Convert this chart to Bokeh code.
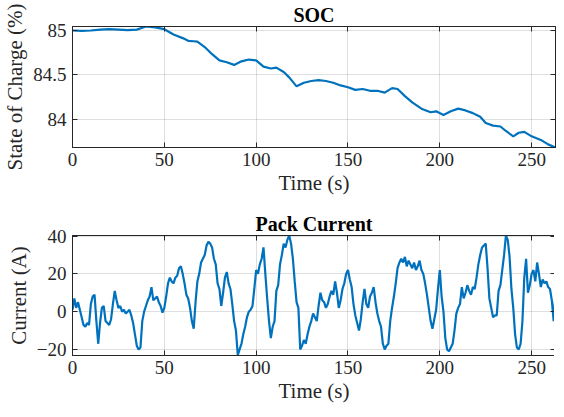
from bokeh.plotting import figure
from bokeh.layouts import column
from bokeh.models import Range1d, FixedTicker, LinearAxis
from bokeh.embed import file_html
from bokeh.resources import INLINE

# ---------------- data ----------------
soc_time = [0, 5, 10, 15, 20, 25, 30, 35, 40, 45, 50, 55, 60, 63, 66, 68, 72, 76, 80, 84,
            88, 92, 96, 100, 104, 108, 111, 115, 118, 122, 126, 130, 134, 138, 142, 146,
            150, 154, 158, 162, 166, 170, 174, 177, 181, 185, 190, 195, 198, 202, 206,
            210, 214, 218, 222, 225, 229, 233, 236, 240, 243, 246, 250, 255, 259, 263]
soc_values = [84.995, 84.99, 84.995, 85.005, 85.01, 85.005, 85.0, 85.005, 85.04, 85.03,
              85.01, 84.95, 84.91, 84.88, 84.875, 84.87, 84.81, 84.73, 84.66, 84.64,
              84.61, 84.65, 84.67, 84.66, 84.59, 84.57, 84.58, 84.53, 84.47, 84.37,
              84.41, 84.43, 84.44, 84.43, 84.41, 84.38, 84.36, 84.33, 84.34, 84.32,
              84.32, 84.30, 84.35, 84.34, 84.26, 84.19, 84.12, 84.08, 84.09, 84.05,
              84.09, 84.12, 84.10, 84.07, 84.03, 83.96, 83.93, 83.92, 83.87, 83.81,
              83.85, 83.86, 83.81, 83.77, 83.72, 83.685]

current_values = [
    1, 7, 2, 5, 1, -3, -7, -8, -6, -7,
    4, 8, 9, -5, -17, -6, 2, 3, -5, -6,
    -7, -4, 4, 11, 6, 2, 3, 0, 1, -1,
    0, 1, -2, -6, -12, -18, -20, -19, -5, 0,
    3, 6, 8, 13, 6, 7, 8, 5, 3, -0.5,
    2, 8, 15, 18, 16, 15, 18, 19, 23, 24,
    20, 15, 9, 7, 2, -5, -9, 5, 16, 20,
    26, 28, 30, 35, 37, 36, 34, 28, 25, 15,
    12, 3, 10, 18, 21, 15, 12, 4, -5, -10,
    -23, -20, -17, -12, -8, -3, 0, 1, 3, 12,
    22, 20, 25, 28, 34, 20, 7, -5, -14, -8,
    -5, 11, 14, 25, 30, 36, 34, 38, 40.3, 36,
    28, 16, 5, 2, -20, -18, -15, -17, -12, -8,
    -5, -1, -3, -5, 3, 10, 6, 5, 2, 4,
    8, 11, 9, 16, 10, 2, 6, 12, 15, 20,
    22, 17, 13, 4, -2, -6, -10, -4, 5, 12,
    4, 2, 8, 10, 13, 5, -1, -5, -8, -17,
    -20, -18, -17, -5, 2, 8, 15, 23, 26, 28,
    26, 29, 24, 27, 25, 23, 26, 22, 24, 27,
    22, 20, 15, 9, 2, -5, -9, -4, 1, 12,
    22, 8, 0, -14, -20, -21, -19, -17, -10, -1,
    2, 4, 13, 7, 10, 14, 11, 9, 13, 12,
    18, 25, 30, 34, 35, 36, 23, 7, 2, -3,
    -2, -2, 11, 14, 22, 30, 40.3, 38, 29, 12,
    2, -12, -19, -20, -17, -5, 18, 28, 10, 14,
    20, 22, 16, 26, 20, 13, 17, 15, 16, 13,
    12, 6, -5, 10]
current_time = list(range(len(current_values)))

x_ticks = [0, 50, 100, 150, 200, 250]
soc_ticks = [84, 84.5, 85]
current_ticks = [-20, 0, 20, 40]

# ---------------- style ----------------
FONT = "Liberation Serif"
AX = "#262626"
BLUE = "#0072BD"


def style(p, yticks, ylabel, title):
    p.title.text = title
    p.title.text_font = FONT
    p.title.text_font_size = "20px"
    p.title.text_font_style = "bold"
    p.title.text_color = "black"
    p.title.align = "center"
    p.title.standoff = 2
    p.outline_line_color = AX
    p.outline_line_width = 1
    p.outline_line_alpha = 1
    for ax in (p.xaxis[0], p.yaxis[0]):
        ax.axis_line_color = AX
        ax.major_tick_line_color = AX
        ax.major_tick_in = 5
        ax.major_tick_out = 0
        ax.minor_tick_line_color = None
        ax.major_label_text_font = FONT
        ax.major_label_text_font_size = "19px"
        ax.major_label_text_color = AX
        ax.axis_label_text_font = FONT
        ax.axis_label_text_font_size = "21px"
        ax.axis_label_text_font_style = "normal"
        ax.axis_label_text_color = AX
    p.xaxis[0].ticker = FixedTicker(ticks=x_ticks)
    p.yaxis[0].ticker = FixedTicker(ticks=yticks)
    p.xaxis[0].axis_label = "Time (s)"
    p.yaxis[0].axis_label = ylabel
    p.xaxis[0].major_label_standoff = 5
    p.yaxis[0].major_label_standoff = 6
    p.xaxis[0].axis_label_standoff = 2
    p.yaxis[0].axis_label_standoff = 3
    # MATLAB-style box: inward tick marks on the top and right edges, no labels
    for loc, tk in (("right", yticks), ("above", x_ticks)):
        ax = LinearAxis(ticker=FixedTicker(ticks=tk))
        ax.axis_line_color = AX
        ax.major_tick_line_color = AX
        ax.major_tick_in = 5
        ax.major_tick_out = 0
        ax.minor_tick_line_color = None
        ax.major_label_text_font_size = "0px"
        ax.major_label_text_color = None
        ax.major_label_standoff = 0
        p.add_layout(ax, loc)
    p.grid.grid_line_color = AX
    p.grid.grid_line_alpha = 0.15
    p.grid.grid_line_width = 1
    p.xgrid.ticker = FixedTicker(ticks=x_ticks)
    p.ygrid.ticker = FixedTicker(ticks=yticks)
    p.background_fill_color = "white"
    p.border_fill_color = "white"


p1 = figure(frame_width=483, frame_height=121, output_backend="svg",
            toolbar_location=None,
            x_range=Range1d(0, 263), y_range=Range1d(83.685, 85.04),
            min_border_left=69, min_border_right=2, min_border_top=22,
            min_border_bottom=57)
style(p1, soc_ticks, "State of Charge (%)", "SOC")
p1.line(soc_time, soc_values, line_color=BLUE, line_width=2.2)

p2 = figure(frame_width=483, frame_height=120, output_backend="svg",
            toolbar_location=None,
            x_range=Range1d(0, 263), y_range=Range1d(-23.2, 40.3),
            min_border_left=69, min_border_right=2, min_border_top=31,
            min_border_bottom=50)
style(p2, current_ticks, "Current (A)", "Pack Current")
p2.line(current_time, current_values, line_color=BLUE, line_width=2.2)

layout = column(p1, p2, spacing=0)
open("out.html", "w").write(file_html(layout, INLINE))
